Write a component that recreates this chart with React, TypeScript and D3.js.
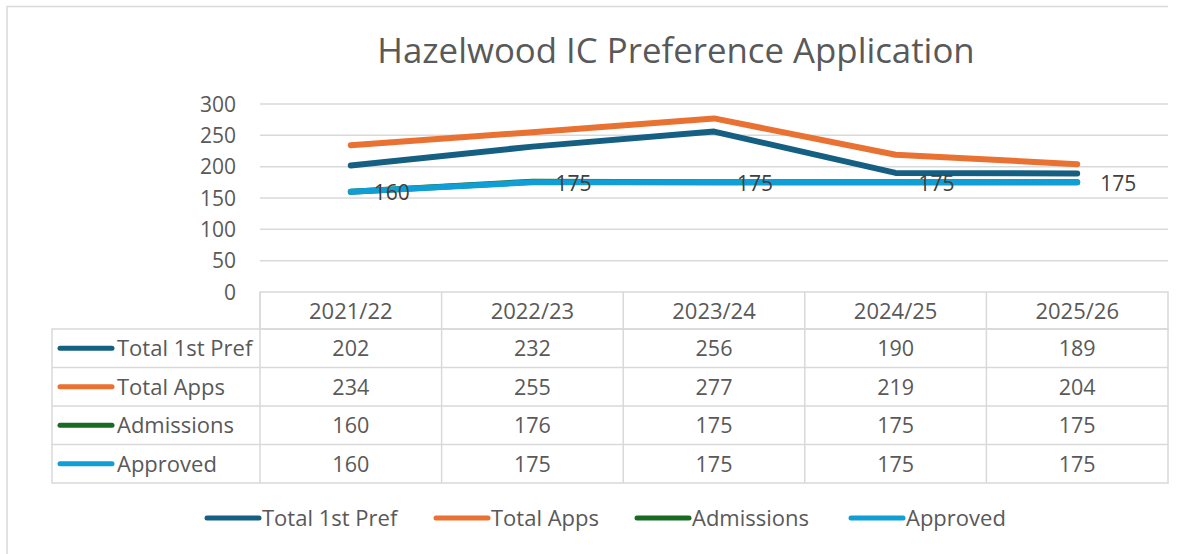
import { useEffect, useRef } from 'react';
import * as d3 from 'd3';

const W = 1191, H = 554;

const categories = ['2021/22', '2022/23', '2023/24', '2024/25', '2025/26'];
const seriesNames = ['Total 1st Pref', 'Total Apps', 'Admissions', 'Approved'];
const totalFirstPref = [202, 232, 256, 190, 189];
const totalApps = [234, 255, 277, 219, 204];
const admissions = [160, 176, 175, 175, 175];
const approved = [160, 175, 175, 175, 175];
const seriesColors = ['#156082', '#E97132', '#196B24', '#0F9ED5'];

const FONT = '"Open Sans", "Liberation Sans", sans-serif';

export default function App() {
  const svgRef = useRef<SVGSVGElement | null>(null);

  useEffect(() => {
    const svg = d3.select(svgRef.current);
    svg.selectAll('*').remove();

    const series = [totalFirstPref, totalApps, admissions, approved].map((values, i) => ({
      name: seriesNames[i],
      color: seriesColors[i],
      values,
    }));

    const plotLeft = 260, plotRight = 1168, plotTop = 104, plotBottom = 292;
    const x = d3.scaleBand<string>().domain(categories).range([plotLeft, plotRight]).paddingInner(0);
    const y = d3.scaleLinear().domain([0, 300]).range([plotBottom, plotTop]);
    const cx = (c: string) => (x(c) ?? 0) + x.bandwidth() / 2;

    // outer chart frame
    svg.append('path')
      .attr('d', `M7,${H + 2}V6.5H1168`)
      .attr('fill', 'none')
      .attr('stroke', '#d9d9d9')
      .attr('stroke-width', 1.5);

    // title
    svg.append('text')
      .attr('x', 676)
      .attr('y', 63)
      .attr('text-anchor', 'middle')
      .attr('font-family', FONT)
      .attr('font-size', 34.8)
      .attr('fill', '#595959')
      .text('Hazelwood IC Preference Application');

    // gridlines + y labels
    const ticks = y.ticks(6);
    svg.append('g')
      .selectAll('line')
      .data(ticks.filter((t) => t > 0))
      .join('line')
      .attr('x1', plotLeft)
      .attr('x2', plotRight)
      .attr('y1', (d) => y(d))
      .attr('y2', (d) => y(d))
      .attr('stroke', '#d9d9d9')
      .attr('stroke-width', 1.5);

    svg.append('g')
      .selectAll('text')
      .data(ticks)
      .join('text')
      .attr('x', 236)
      .attr('y', (d) => y(d))
      .attr('dy', '0.36em')
      .attr('text-anchor', 'end')
      .attr('font-family', FONT)
      .attr('font-size', 21)
      .attr('fill', '#595959')
      .text((d) => d);

    // lines
    const line = d3.line<number>()
      .x((_, i) => cx(categories[i]))
      .y((d) => y(d));

    svg.append('g')
      .selectAll('path')
      .data(series)
      .join('path')
      .attr('d', (d) => line(d.values))
      .attr('fill', 'none')
      .attr('stroke', (d) => d.color)
      .attr('stroke-width', 6)
      .attr('stroke-linecap', 'round')
      .attr('stroke-linejoin', 'round');

    // data labels on Approved
    svg.append('g')
      .selectAll('text')
      .data(approved)
      .join('text')
      .attr('x', (_, i) => cx(categories[i]) + 23)
      .attr('y', (d) => y(d) + 1)
      .attr('dy', '0.36em')
      .attr('font-family', FONT)
      .attr('font-size', 21)
      .attr('fill', '#404040')
      .text((d) => d);

    // data table
    const headerTop = plotBottom, headerBottom = 329, rowH = 38.5;
    const tableLeft = 52;
    const rowsBottom = headerBottom + rowH * series.length;
    const tbl = svg.append('g')
      .attr('stroke', '#d9d9d9')
      .attr('stroke-width', 1.5)
      .attr('fill', 'none');

    tbl.append('rect')
      .attr('x', plotLeft).attr('y', headerTop)
      .attr('width', plotRight - plotLeft).attr('height', headerBottom - headerTop);
    tbl.append('rect')
      .attr('x', tableLeft).attr('y', headerBottom)
      .attr('width', plotRight - tableLeft).attr('height', rowsBottom - headerBottom);
    tbl.selectAll('line.col')
      .data(categories)
      .join('line')
      .attr('class', 'col')
      .attr('x1', (d) => x(d) ?? 0).attr('x2', (d) => x(d) ?? 0)
      .attr('y1', headerTop).attr('y2', rowsBottom);
    tbl.selectAll('line.row')
      .data(series.slice(1))
      .join('line')
      .attr('class', 'row')
      .attr('x1', tableLeft).attr('x2', plotRight)
      .attr('y1', (_, i) => headerBottom + rowH * (i + 1))
      .attr('y2', (_, i) => headerBottom + rowH * (i + 1));

    svg.append('g')
      .selectAll('text')
      .data(categories)
      .join('text')
      .attr('x', (d) => cx(d))
      .attr('y', (headerTop + headerBottom) / 2 + 1)
      .attr('dy', '0.36em')
      .attr('text-anchor', 'middle')
      .attr('font-family', FONT)
      .attr('font-size', 22)
      .attr('fill', '#595959')
      .text((d) => d);

    const rows = svg.append('g')
      .selectAll('g')
      .data(series)
      .join('g')
      .attr('transform', (_, i) => `translate(0,${headerBottom + rowH * i + rowH / 2})`);

    rows.append('line')
      .attr('x1', 60).attr('x2', 112)
      .attr('stroke', (d) => d.color)
      .attr('stroke-width', 5)
      .attr('stroke-linecap', 'round');
    rows.append('text')
      .attr('x', 117)
      .attr('dy', '0.36em')
      .attr('font-family', FONT)
      .attr('font-size', 22)
      .attr('fill', '#595959')
      .text((d) => d.name);
    rows.selectAll('text.val')
      .data((d) => d.values)
      .join('text')
      .attr('class', 'val')
      .attr('x', (_, i) => cx(categories[i]))
      .attr('dy', '0.36em')
      .attr('text-anchor', 'middle')
      .attr('font-family', FONT)
      .attr('font-size', 21.5)
      .attr('fill', '#595959')
      .text((d) => d);

    // bottom legend
    const legendX = [205, 434, 635, 849];
    const legend = svg.append('g')
      .selectAll('g')
      .data(series)
      .join('g')
      .attr('transform', (_, i) => `translate(${legendX[i]},518)`);
    legend.append('line')
      .attr('x1', 2).attr('x2', 54)
      .attr('stroke', (d) => d.color)
      .attr('stroke-width', 5)
      .attr('stroke-linecap', 'round');
    legend.append('text')
      .attr('x', 57)
      .attr('dy', '0.36em')
      .attr('font-family', FONT)
      .attr('font-size', 22)
      .attr('fill', '#595959')
      .text((d) => d.name);
  }, []);

  return (
    <svg
      ref={svgRef}
      width={W}
      height={H}
      style={{ position: 'absolute', left: 0, top: 0, background: '#fff' }}
    />
  );
}
